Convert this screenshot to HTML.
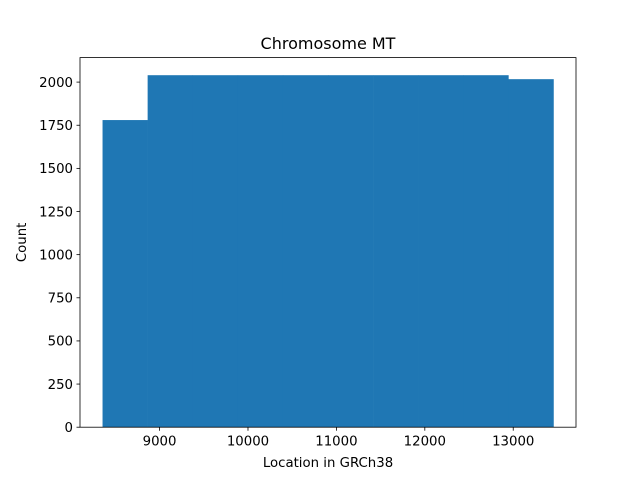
<!DOCTYPE html>
<html><head><meta charset="utf-8"><style>body{margin:0;background:#fff}svg text{font-family:"DejaVu Sans","Liberation Sans",sans-serif;fill:#000}</style></head>
<body>
<svg id="c" width="640" height="480" xmlns="http://www.w3.org/2000/svg"></svg>
<script>
const binStart = 8355;
const binWidth = 510;
const counts = [1780, 2040, 2040, 2040, 2040, 2040, 2040, 2040, 2040, 2017];
const xTicks = [9000, 10000, 11000, 12000, 13000];
const yTicks = [0, 250, 500, 750, 1000, 1250, 1500, 1750, 2000];
const L=80,R=576,T=57.6,B=427.2;
const x0=8100,x1=13710,y1=2142;
const sx=v=>L+(v-x0)/(x1-x0)*(R-L);
const sy=v=>B-v/y1*(B-T);
const svg=document.getElementById('c');
const NS='http://www.w3.org/2000/svg';
function mk(t,a,txt){const e=document.createElementNS(NS,t);for(const k in a)e.setAttribute(k,a[k]);if(txt!==undefined)e.textContent=txt;svg.appendChild(e);return e;}
counts.forEach((c,i)=>{const a=binStart+i*binWidth,b=a+binWidth;
const r=mk('rect',{x:sx(a),y:sy(c),width:sx(b)-sx(a)+0.3,height:B-sy(c),fill:'#1f77b4'});

});
const f=mk('rect',{x:L,y:T,width:R-L,height:B-T,fill:'none',stroke:'#000','stroke-width':0.8});


xTicks.forEach(v=>{const p=sx(v);mk('line',{x1:p,x2:p,y1:B,y2:B+3.5,stroke:'#000','stroke-width':0.8});
const t=mk('text',{x:p,y:B+18.5,'text-anchor':'middle','font-size':'13.3px'},v);

});
yTicks.forEach(v=>{const p=sy(v);mk('line',{x1:L-3.5,x2:L,y1:p,y2:p,stroke:'#000','stroke-width':0.8});
const t=mk('text',{x:L-7,y:p+4.8,'text-anchor':'end','font-size':'13.3px'},v);

});
const tt=mk('text',{x:(L+R)/2,y:49,'text-anchor':'middle','font-size':'16px'},'Chromosome MT');


const xl=mk('text',{x:(L+R)/2,y:467,'text-anchor':'middle','font-size':'13.3px'},'Location in GRCh38');


const yl=mk('text',{x:0,y:0,'text-anchor':'middle','font-size':'13.3px',transform:'translate(26,242.4) rotate(-90)'},'Count');


</script>
</body></html>
